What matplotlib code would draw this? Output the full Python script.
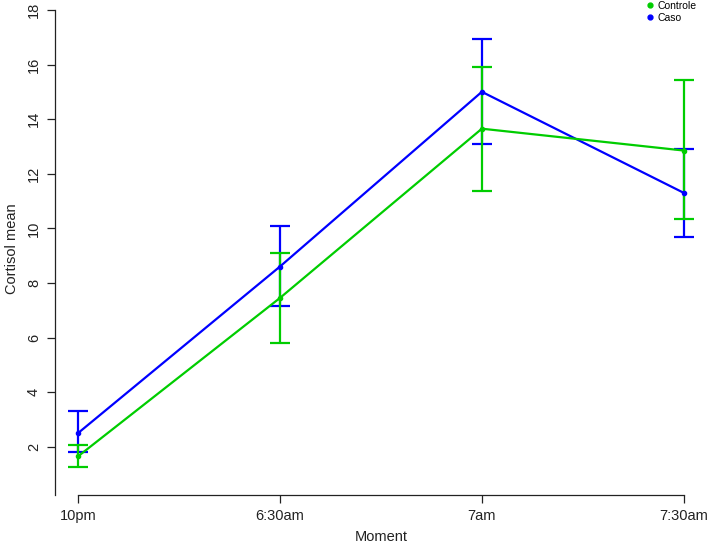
import matplotlib
matplotlib.use("Agg")
from matplotlib import pyplot as plt
from matplotlib.lines import Line2D

# values
moments = ['10pm', '6:30am', '7am', '7:30am']
controle_mean = [1.65, 7.45, 13.65, 12.85]
controle_low = [1.25, 5.80, 11.35, 10.35]
controle_high = [2.05, 9.10, 15.92, 15.42]
caso_mean = [2.50, 8.60, 15.00, 11.30]
caso_low = [1.80, 7.15, 13.10, 9.70]
caso_high = [3.30, 10.10, 16.94, 12.90]

plt.rcParams['font.family'] = ['Liberation Sans', 'DejaVu Sans']

W, H = 709, 547
fig = plt.figure(figsize=(W / 100, H / 100), dpi=100)
ax = fig.add_axes([55 / W, 1 - 495 / H, (708 - 55) / W, (495 - 2) / H])

x = list(range(1, len(moments) + 1))
green = '#00CD00'
blue = '#0000FF'


def draw(mean, low, high, color, label):
    err = [[m - l for m, l in zip(mean, low)], [h - m for m, h in zip(mean, high)]]
    ax.errorbar(x, mean, yerr=err, color=color, lw=1.6, elinewidth=1.6,
                capsize=7, capthick=1.6, marker='o', ms=3, label=label)


draw(caso_mean, caso_low, caso_high, blue, 'Caso')
draw(controle_mean, controle_low, controle_high, green, 'Controle')

ax.set_xlim(0.886, 4.12)
ax.set_ylim(0.234, 18.29)
ax.set_xticks(x)
ax.set_xticklabels(moments)
ax.set_yticks(range(2, 19, 2))
ax.tick_params(axis='y', labelrotation=90)
for lab in ax.get_yticklabels():
    lab.set_va('center')
ax.tick_params(axis='both', direction='out', length=6, width=0.9,
               labelsize=10.5, colors='#222222', pad=4)

for s in ['top', 'right']:
    ax.spines[s].set_visible(False)
ax.spines['bottom'].set_bounds(1, 4)
ax.spines['left'].set_bounds(0.234, 18)
for s in ['left', 'bottom']:
    ax.spines[s].set_linewidth(0.9)
    ax.spines[s].set_color('#222222')

ax.set_xlabel('Moment', fontsize=10.5, color='#222222', labelpad=5)
ax.set_ylabel('Cortisol mean', fontsize=10.5, color='#222222', labelpad=6)

leg_handles = [Line2D([], [], ls='', marker='o', ms=3.5, color=green),
               Line2D([], [], ls='', marker='o', ms=3.5, color=blue)]
fig.legend(leg_handles, ['Controle', 'Caso'], loc='upper left',
           bbox_to_anchor=(643 / W, 1.0), frameon=False, fontsize=7.5,
           handletextpad=0.1, labelspacing=0.2, borderaxespad=0,
           borderpad=0.1, handlelength=1.2)

fig.savefig('out.png', dpi=100)
